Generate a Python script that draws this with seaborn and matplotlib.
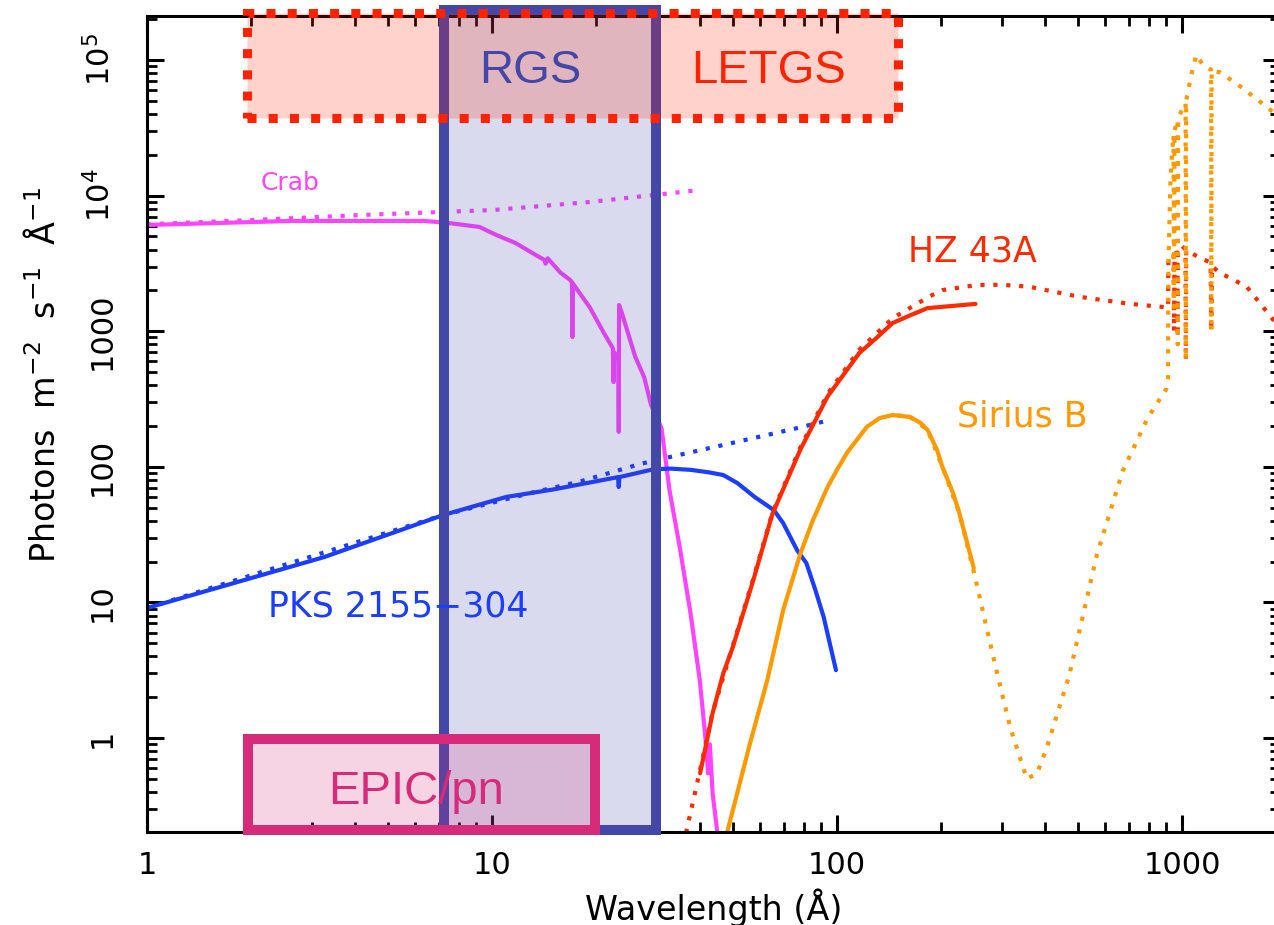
import numpy as np
import pandas as pd
import matplotlib
matplotlib.use("Agg")
import matplotlib.pyplot as plt
from matplotlib.patches import Rectangle
from matplotlib.ticker import LogLocator, FixedLocator, FixedFormatter, NullFormatter
import seaborn as sns

# ---------------- data ----------------
crab_wl = [1.0, 2.6, 6.4, 7.6, 9.2, 10.3, 11.7, 13.1, 14.2, 14.3, 14.5, 15.8, 16.8, 17.05,
           17.1, 17.15, 19.2, 21.1, 22.4, 22.5, 22.6, 23.25, 23.3, 23.35, 23.8, 26.0,
           27.6, 28.9, 31.0, 32.7, 35.0, 37.6, 40.0, 41.8, 42.3, 42.8, 43.6, 45.0, 46.0]
crab_flux = [6070, 6500, 6500, 6250, 5870, 5120, 4470, 3770, 3350, 3150, 3450, 2700, 2400,
             2300, 906, 2250, 1500, 970, 750, 422, 700, 620, 181, 1560, 1360, 650,
             460, 286, 193, 67, 25.6, 8.4, 2.7, 0.86, 0.55, 0.9, 0.39, 0.2, 0.12]
crab_model_wl = [1.0, 2.0, 4.17, 10.1, 19.2, 40.0]
crab_model_flux = [6150, 6600, 7190, 7830, 8970, 11000]

pks_wl = [1.0, 3.26, 7.2, 11.0, 15.0, 23.2, 23.3, 23.4, 29.4, 33.0, 37.7, 42.6, 46.8,
          51.4, 57.7, 65.6, 69.8, 76.6, 81.5, 86.6, 91.5, 99.3]
pks_flux = [9.1, 21.6, 44, 60, 68, 84, 71, 84, 96, 97, 95, 91, 87, 76, 60, 48, 38.5,
            24.3, 19.5, 12.3, 7.8, 3.17]
pks_model_wl = [1.0, 7.2, 12.9, 18.0, 26.9, 32.7, 48.0, 76.6, 95.0]
pks_model_flux = [9.1, 44, 64, 78, 105, 118, 147, 193, 221]

hz_wl = [40.1, 43.6, 46.8, 49.9, 57.2, 65.0, 78.4, 93.9, 116, 130, 145, 163, 183, 252]
hz_flux = [0.55, 1.53, 3.0, 4.7, 14.6, 45, 135, 330, 690, 890, 1150, 1310, 1480, 1590]
hz_model_wl = [36.5, 39.2, 43.6, 49.9, 57.2, 65.0, 78.4, 93.9, 116, 145, 185, 202, 254,
               300, 360, 506, 709, 878, 911, 913, 945, 948, 951, 970, 972, 974, 1000,
               1024, 1026, 1028, 1100, 1210, 1216, 1222, 1290, 1540, 1850, 1930]
hz_model_flux = [0.2, 0.45, 1.55, 4.8, 15, 46, 140, 345, 730, 1250, 1800, 2010, 2190,
                 2200, 2130, 1790, 1590, 1510, 1480, 3300, 3700, 1000, 3750, 3800, 900,
                 3900, 4250, 4000, 614, 3950, 3600, 3200, 1000, 3000, 2690, 2130, 1190,
                 1050]

sirius_wl = [48.0, 55.6, 62.8, 69.9, 78.4, 85.0, 93.9, 100, 106.9, 122, 133, 145, 163,
             175, 183, 195, 202, 217, 226, 249]
sirius_flux = [0.2, 0.86, 2.68, 8.9, 23.1, 40, 71, 95, 127, 197, 229, 241, 233,
               210, 187, 133, 100, 64, 46, 18]
sirius_model_wl = [150, 163, 183, 202, 226, 249, 265, 292, 318, 355, 380, 405, 471, 567,
                   673, 795, 900, 911, 913, 925, 935, 945, 948, 951, 960, 970, 972, 974,
                   1000, 1024, 1026, 1028, 1060, 1100, 1150, 1200, 1214, 1216, 1218,
                   1290, 1500, 1850, 1930]
sirius_model_flux = [240, 233, 187, 100, 46, 17, 8.5, 2.9, 1.19, 0.5, 0.55, 0.84, 2.9,
                     22.7, 93, 229, 375, 445, 3000, 12000, 20000, 28000, 1500, 30000,
                     33000, 36000, 800, 37000, 43000, 48000, 614, 50000, 75000, 109000,
                     92000, 86000, 85000, 1000, 83000, 81000, 62000, 40700, 38000]

x_ticks = [1, 10, 100, 1000]
x_tick_labels = ["1", "10", "100", "1000"]
y_ticks = [1, 10, 100, 1000, 1e4, 1e5]
y_tick_labels = ["1", "10", "100", "1000", r"10$^4$", r"10$^5$"]

# instrument bands: (lambda_min, lambda_max, flux_min, flux_max)
rgs_band = [7.26, 29.9, 0.21, 2.34e5]
letgs_band = [1.95, 150.0, 3.73e4, 2.22e5]
epic_band = [1.96, 19.9, 0.21, 0.98]

# ---------------- style ----------------
sns.set_style("ticks")
plt.rcParams["font.family"] = ["DejaVu Sans"]
plt.rcParams["mathtext.default"] = "regular"
plt.rcParams["text.color"] = "black"
plt.rcParams["axes.labelcolor"] = "black"

C_CRAB = "#ff44ff"
C_PKS = "#1a3dff"
C_HZ = "#ff2a00"
C_SIR = "#ff9900"
C_RGS = "#4347a8"
C_LET = "#ff2200"
C_EPIC = "#d62a7a"

fig = plt.figure(figsize=(12.74, 9.25), dpi=100)
ax = fig.add_axes([147 / 1274, (925 - 832) / 925, (1280 - 147) / 1274, (832 - 16) / 925])
ax.set_xscale("log")
ax.set_yscale("log")

solid_lw = 3.0
dot_lw = 3.0
dots = (0, (1, 2.1))


def draw(wl, fl, color, dotted=False):
    df = pd.DataFrame({"wl": wl, "flux": fl})
    kw = dict(linestyle=dots, linewidth=dot_lw) if dotted else dict(linewidth=solid_lw)
    sns.lineplot(data=df, x="wl", y="flux", ax=ax, color=color, estimator=None,
                 sort=False, zorder=2, **kw)


draw(crab_model_wl, crab_model_flux, C_CRAB, dotted=True)
draw(crab_wl, crab_flux, C_CRAB)
draw(pks_model_wl, pks_model_flux, C_PKS, dotted=True)
draw(pks_wl, pks_flux, C_PKS)
draw(hz_model_wl, hz_model_flux, C_HZ, dotted=True)
draw(hz_wl, hz_flux, C_HZ)
draw(sirius_model_wl, sirius_model_flux, C_SIR, dotted=True)
draw(sirius_wl, sirius_flux, C_SIR)

ax.set_xlim(1, 1923)
ax.set_ylim(0.203, 2.11e5)


def band(b, face, edge, lw, ls, z, alpha=0.2):
    x0, x1, y0, y1 = b
    r = Rectangle((x0, y0), x1 - x0, y1 - y0,
                  facecolor=matplotlib.colors.to_rgba(face, alpha),
                  edgecolor=edge, linewidth=lw, linestyle=ls, zorder=z, clip_on=False)
    ax.add_patch(r)


band(rgs_band, C_RGS, C_RGS, 7.2, "-", 3)
band(letgs_band, C_LET, C_LET, 6.5, (0, (1, 1.35)), 4)
band(epic_band, C_EPIC, C_EPIC, 7.2, "-", 5)

# instrument labels
ax.text(12.9, 8.3e4, "RGS", color=C_RGS, fontsize=34, family="Liberation Sans",
        ha="center", va="center", zorder=6)
ax.text(63.5, 8.3e4, "LETGS", color=C_LET, fontsize=34, family="Liberation Sans",
        ha="center", va="center", zorder=6)
ax.text(6.03, 0.40, "EPIC/pn", color=C_EPIC, fontsize=34, family="Liberation Sans",
        ha="center", va="center", zorder=6)

# source labels
ax.text(2.13, 1.23e4, "Crab", color=C_CRAB, fontsize=18, ha="left", va="center", zorder=6)
ax.text(2.24, 9.27, "PKS 2155\u2212304", color=C_PKS, fontsize=25, ha="left", va="center", zorder=6)
ax.text(160.6, 3900, "HZ 43A", color=C_HZ, fontsize=25, ha="left", va="center", zorder=6)
ax.text(223, 237, "Sirius B", color=C_SIR, fontsize=25, ha="left", va="center", zorder=6)

# axes styling
for s in ax.spines.values():
    s.set_linewidth(2.2)
    s.set_color("black")
ax.xaxis.set_major_locator(FixedLocator(x_ticks))
ax.xaxis.set_major_formatter(FixedFormatter(x_tick_labels))
ax.yaxis.set_major_locator(FixedLocator(y_ticks))
ax.yaxis.set_major_formatter(FixedFormatter(y_tick_labels))
ax.xaxis.set_minor_locator(LogLocator(base=10, subs=np.arange(2, 10), numticks=20))
ax.yaxis.set_minor_locator(LogLocator(base=10, subs=np.arange(2, 10), numticks=20))
ax.xaxis.set_minor_formatter(NullFormatter())
ax.yaxis.set_minor_formatter(NullFormatter())
ax.tick_params(which="both", direction="in", top=True, right=True, colors="black",
               labelcolor="black")
ax.tick_params(which="major", length=12, width=2.2, labelsize=22)
ax.tick_params(which="minor", length=7, width=2.0)
ax.tick_params(axis="x", which="major", pad=14)
ax.tick_params(axis="y", which="major", pad=22)
for lab in ax.get_yticklabels():
    lab.set_rotation(90)
    lab.set_va("center")

ax.set_xlabel("Wavelength (\u00c5)", fontsize=24, labelpad=6, color="black")
ax.set_ylabel("Photons  m$^{-2}$  s$^{-1}$  \u00c5$^{-1}$", fontsize=24, color="black")
ax.yaxis.set_label_coords(-0.075, 0.56)

fig.savefig("out.png", dpi=100)
